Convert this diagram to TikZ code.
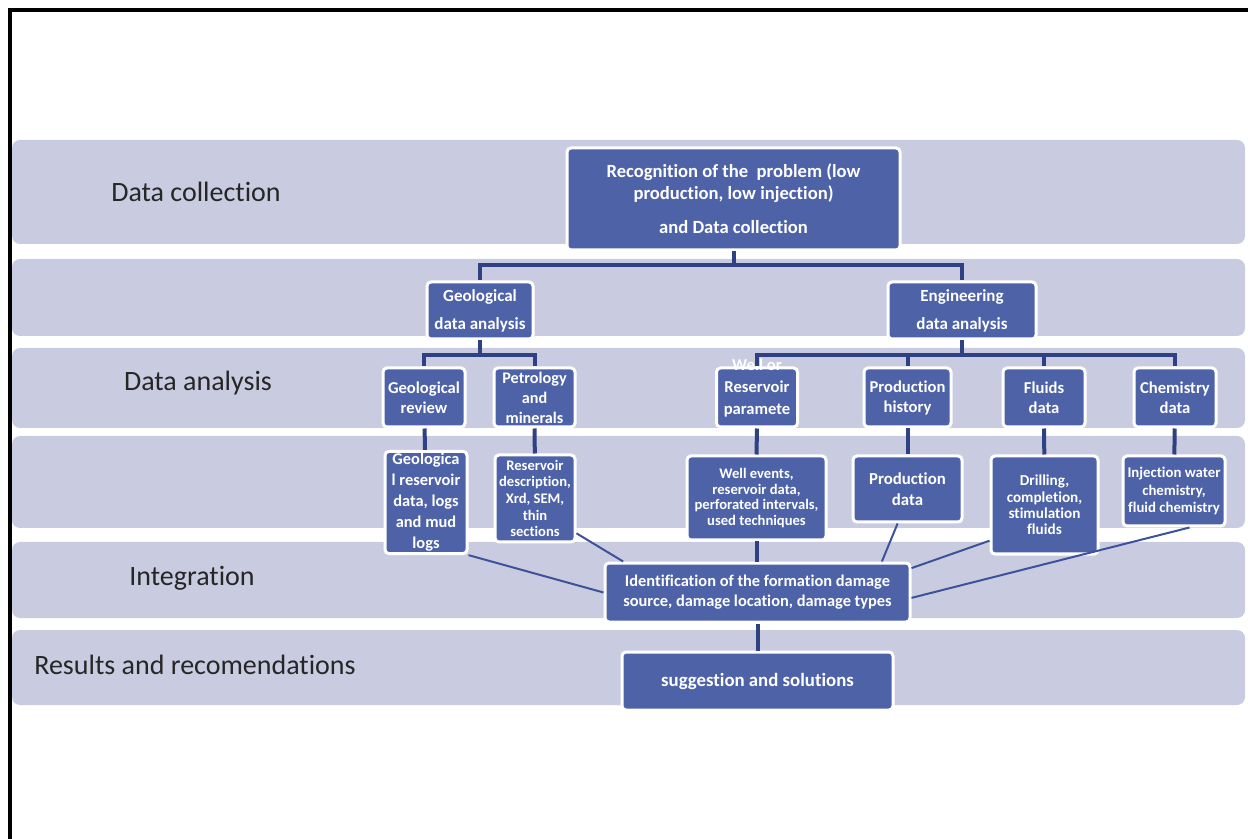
\documentclass[tikz,border=0pt]{standalone}
\usepackage{fontspec}
\setmainfont{Carlito}[Ligatures=NoCommon]

\definecolor{bandcol}{HTML}{C9CCE0}
\definecolor{boxcol}{HTML}{4E62A8}
\definecolor{treecol}{HTML}{2E4283}
\definecolor{linkcol}{HTML}{3D5299}

\begin{document}
\begin{tikzpicture}[x=0.5pt,y=-0.5pt,
    band/.style={fill=bandcol,rounded corners=4pt},
    box/.style={draw=white,line width=1.5pt,fill=boxcol,rounded corners=2pt,
                text=white,align=center,inner sep=1pt},
    fs/.style 2 args={font=\fontsize{#1}{#2}\selectfont\bfseries},
    lbl/.style={text=black!85,font=\fontsize{14}{17}\selectfont},
    tree/.style={draw=treecol,line width=2pt},
    link/.style={draw=linkcol,line width=1pt}]
    \useasboundingbox (0,0) rectangle (1248,839);
    % frame and bands
    \draw[line width=1.7pt] (10,839) -- (10,10) -- (1248,10);
    \fill[band] (12,140) rectangle (1245,244);
    \fill[band] (12,259) rectangle (1245,336);
    \fill[band] (12,348) rectangle (1245,428);
    \fill[band] (12,436) rectangle (1245,528);
    \fill[band] (12,542) rectangle (1245,618);
    \fill[band] (12,630) rectangle (1245,705);
    % stage labels
    \node[lbl] (lcoll) at (196,192) {Data collection};
    \node[lbl] (lanal) at (198,383) {Data analysis};
    \node[lbl] (linteg) at (192,578) {Integration};
    \node[lbl] (lres) at (195,665) {Results and recomendations};
    % boxes
    \node[box,fs={9.3}{11},minimum width=166.5pt,minimum height=51pt] (rec) at (733.5,199)
        {Recognition of the \ problem (low\\production, low injection)\\[6pt]and Data collection};
    \node[box,fs={8.5}{14},minimum width=53pt,minimum height=28.5pt] (geo) at (480,310.5)
        {Geological\\data analysis};
    \node[box,fs={8.5}{14},minimum width=74pt,minimum height=28.5pt] (eng) at (962,310.5)
        {Engineering\\data analysis};
    \node[box,fs={8.3}{10},minimum width=41pt,minimum height=29.5pt] (geor) at (424,397.5)
        {Geological\\review};
    \node[box,fs={8.1}{10},minimum width=40.5pt,minimum height=29.5pt] (petro) at (534.5,397.5)
        {Petrology\\and\\minerals};
    \node[box,minimum width=40.5pt,minimum height=29.5pt] (wrp) at (757,397.5) {};
    \node[text=white,fs={8.3}{11},align=center,inner sep=0pt] (wrpt) at (wrp)
        {Well or\\Reservoir\\paramete\\rs};
    \node[box,fs={8.3}{10},minimum width=43.5pt,minimum height=29.5pt] (prodh) at (907.5,397.5)
        {Production\\history};
    \node[box,fs={8.3}{10},minimum width=41pt,minimum height=29.5pt] (fluid) at (1044,397.5)
        {Fluids\\data};
    \node[box,fs={8.3}{10},minimum width=41pt,minimum height=29.5pt] (chem) at (1175,397.5)
        {Chemistry\\data};
    \node[box,fs={8.2}{10.5},minimum width=41pt,minimum height=47.5pt] (geodat) at (426,502.5)
        {Geologica\\l reservoir\\data, logs\\and mud\\logs};
    \node[box,fs={7.3}{8.3},minimum width=40pt,minimum height=43.5pt] (resdesc) at (535,498.5)
        {Reservoir\\description,\\Xrd, SEM,\\thin\\sections};
    \node[box,fs={7.3}{7.8},minimum width=69.5pt,minimum height=42pt] (wellev) at (756.5,498)
        {Well events,\\reservoir data,\\perforated intervals,\\used techniques};
    \node[box,fs={8.4}{10.5},minimum width=54.5pt,minimum height=33pt] (proddat) at (907.5,489)
        {Production\\data};
    \node[box,fs={7.6}{8.2},minimum width=53.5pt,minimum height=49pt] (drill) at (1044.5,505)
        {Drilling,\\completion,\\stimulation\\fluids};
    \node[box,fs={7.4}{8.6},minimum width=51pt,minimum height=35pt] (inj) at (1174,491)
        {Injection water\\chemistry,\\fluid chemistry};
    \node[box,fs={8.2}{10},minimum width=152.5pt,minimum height=29.5pt] (ident) at (757.5,592.5)
        {Identification of the formation damage\\source, damage location, damage types};
    \node[box,fs={9.4}{11},minimum width=135.5pt,minimum height=29pt] (sugg) at (757.5,681)
        {suggestion and solutions};
    % tree connectors
    \coordinate (j1) at (733.5,265);
    \coordinate (j2) at (480,355);
    \coordinate (j3) at (962,355);
    \draw[tree] (rec.south) -- (j1) -| (geo.north);
    \draw[tree] (j1) -| (eng.north);
    \draw[tree] (geo.south) -- (j2) -| (geor.north);
    \draw[tree] (j2) -| (petro.north);
    \draw[tree] (eng.south) -- (j3) -| (wrp.north);
    \draw[tree] (j3) -| (prodh.north);
    \draw[tree] (j3) -| (fluid.north);
    \draw[tree] (j3) -| (chem.north);
    \draw[tree] (geor) -- (geodat);
    \draw[tree] (petro) -- (resdesc);
    \draw[tree] (wrp.south) -- (wellev.north);
    \draw[tree] (prodh) -- (proddat);
    \draw[tree] (fluid) -- (drill);
    \draw[tree] (chem) -- (inj);
    \draw[tree] (wellev.south) -- (ident.north -| wellev.south);
    \draw[tree] (ident) -- (sugg);
    % links into integration
    \draw[link] (geodat.south east) -- (ident.west);
    \draw[link] (resdesc.-40) -- (ident.167);
    \draw[link] (proddat.254) -- (ident.14);
    \draw[link] (drill.213) -- (ident.9);
    \draw[link] (inj.-67) -- (ident.-2);
\end{tikzpicture}
\end{document}
